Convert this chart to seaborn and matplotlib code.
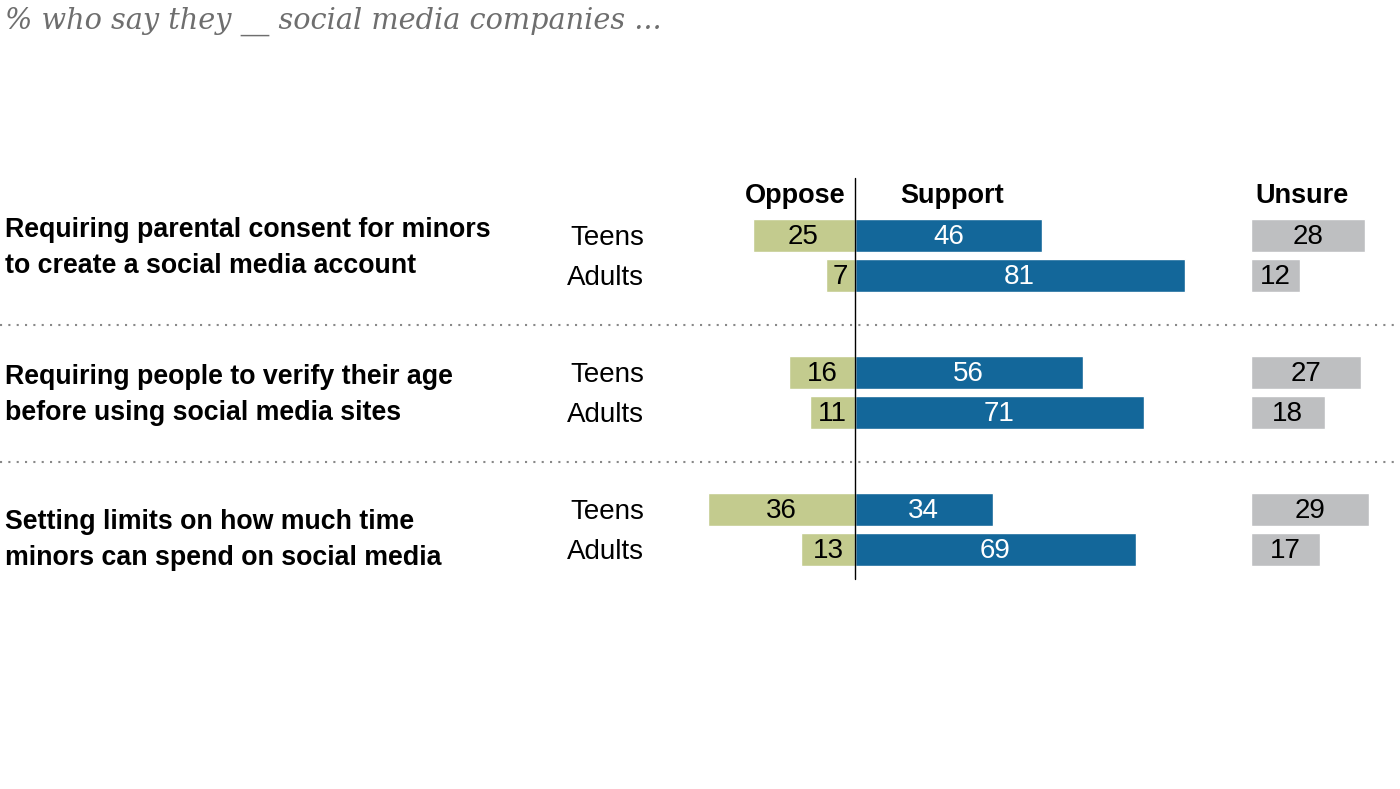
import numpy as np
import pandas as pd
import matplotlib.pyplot as plt
import seaborn as sns

# data
items = [
    "Requiring parental consent for minors\nto create a social media account",
    "Requiring people to verify their age\nbefore using social media sites",
    "Setting limits on how much time\nminors can spend on social media",
]
groups = ["Teens", "Adults"]
oppose = [25, 7, 16, 11, 36, 13]
support = [46, 81, 56, 71, 34, 69]
unsure = [28, 12, 27, 18, 29, 17]

subtitle = "% who say they __ social media companies ..."

GREEN = "#c3cb8e"
BLUE = "#13679a"
GRAY = "#bebfc1"

sns.set_theme(style="white")
plt.rcParams["font.family"] = ["Liberation Sans", "DejaVu Sans"]
plt.rcParams["text.color"] = "black"

# layout: one row step = 40 px, one percent = 4.08 px
group_gap = 3.43
ypos = []
for g in range(len(items)):
    for r in range(len(groups)):
        ypos.append(g * group_gap + r)
ypos = np.array(ypos)
label_y = [0.3, 3.98, 7.62]

df = pd.DataFrame({
    "y": ypos,
    "oppose": -np.array(oppose),
    "support": support,
    "unsure": unsure,
    "group": groups * len(items),
})

unsure_left = 97.2
bar_h = 0.83

fig = plt.figure(figsize=(14, 7.89), dpi=100)
ax = fig.add_axes([0, 0, 1, 1])

sns.barplot(data=df, x="support", y="y", orient="h", native_scale=True,
            color=BLUE, saturation=1, width=bar_h, ax=ax, errorbar=None)
sns.barplot(data=df, x="oppose", y="y", orient="h", native_scale=True,
            color=GREEN, saturation=1, width=bar_h, ax=ax, errorbar=None)
ax.barh(df["y"], df["unsure"], left=unsure_left, height=bar_h, color=GRAY)

xmin, xmax = -854.5 / 4.08, (1400 - 854.5) / 4.08
ax.set_xlim(xmin, xmax)
ax.set_ylim(13.84, -5.89)
ax.axis("off")

fs = 20
for _, row in df.iterrows():
    ax.text(row["oppose"] / 2, row["y"] + 0.03, f"{-row['oppose']:.0f}", ha="center",
            va="center", fontsize=fs, color="black")
    ax.text(row["support"] / 2, row["y"] + 0.03, f"{row['support']:.0f}", ha="center",
            va="center", fontsize=fs, color="white")
    ax.text(unsure_left + row["unsure"] / 2, row["y"] + 0.03, f"{row['unsure']:.0f}",
            ha="center", va="center", fontsize=fs, color="black")
    ax.text(-51.6, row["y"] + 0.05, row["group"], ha="right", va="center",
            fontsize=fs, color="black")

for g, label in enumerate(items):
    ax.text(xmin + 1.2, label_y[g], label, ha="left", va="center",
            fontsize=19.3, fontweight="bold", color="black", linespacing=1.5)

# separators between items
for g in range(1, len(items)):
    ax.axhline(g * group_gap - (group_gap - 1) / 2 + 0.02, color="#888888",
               linestyle=(0, (1, 3)), linewidth=1.5)

# zero line
ax.plot([0, 0], [-1.44, 8.6], color="black", linewidth=1)

# headers
hy = -1.0
ax.text(-2.1, hy, "Oppose", ha="right", va="center", fontsize=19.5, fontweight="bold")
ax.text(23.9, hy, "Support", ha="center", va="center", fontsize=19.5, fontweight="bold")
ax.text(unsure_left + 1, hy, "Unsure", ha="left", va="center", fontsize=19.5, fontweight="bold")

ax.text(xmin + 1.2, -5.36, subtitle, ha="left", va="center", fontsize=20.7,
        family=["DejaVu Serif"], style="italic", color="#6e6e6e")

fig.savefig("out.png", dpi=100)
